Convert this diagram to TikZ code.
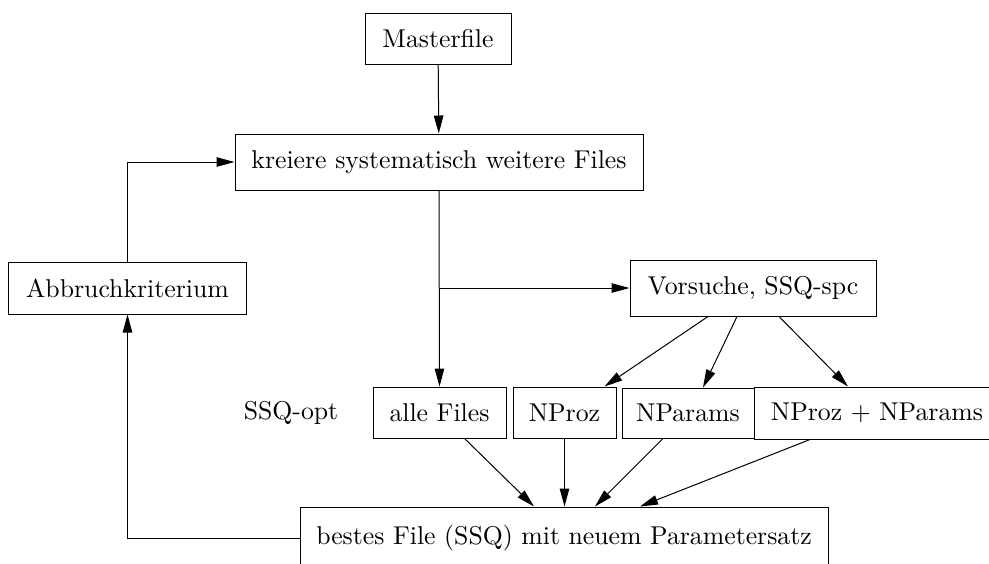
\documentclass[tikz,border=0pt]{standalone}
\usetikzlibrary{arrows.meta,calc}
\begin{document}
\begin{tikzpicture}[x=0.4pt,y=-0.4pt,
  font=\fontsize{10.3}{12}\selectfont,
  box/.style={draw,line width=0.4pt,inner sep=0pt,align=center},
  arr/.style={-{Triangle[length=7.2pt,width=3.8pt]},line width=0.4pt},
  ln/.style={line width=0.4pt}]
\useasboundingbox (0,0) rectangle (989,563);
\clip (0,0) rectangle (989,563);

% boxes
\node[box,minimum width=146*0.4pt,minimum height=51*0.4pt] (master) at (438,38.5) {Masterfile};
\node[box,minimum width=408*0.4pt,minimum height=56*0.4pt] (kreiere) at (439,162) {kreiere systematisch weitere Files};
\node[box,minimum width=237*0.4pt,minimum height=52*0.4pt] (abbruch) at (127.5,288) {Abbruchkriterium};
\node[box,minimum width=246*0.4pt,minimum height=56*0.4pt] (vorsuche) at (753,288) {Vorsuche, SSQ-spc};
\node (ssqopt) at (291,413) {SSQ-opt};
\node[box,minimum width=133*0.4pt,minimum height=51*0.4pt] (alle) at (439.5,412.5) {alle Files};
\node[box,minimum width=103*0.4pt,minimum height=51*0.4pt] (nproz) at (564.5,412.5) {NProz};
\node[box,minimum width=132*0.4pt,minimum height=50*0.4pt] (nparams) at (688,413) {NParams};
\node[box,minimum width=246*0.4pt,minimum height=52*0.4pt] (both) at (877,413) {NProz + NParams};
\node[box,minimum width=528*0.4pt,minimum height=62*0.4pt] (best) at (564,538) {bestes File (SSQ) mit neuem Parametersatz};

% connectors
\draw[arr] (master) -- (kreiere);
\draw[arr] (kreiere.south) -- (alle.north);
\coordinate (split) at (kreiere.south |- vorsuche.west);
\draw[arr] (split) -- (vorsuche.west);
\draw[arr] (abbruch.north) |- (kreiere.west);
\draw[arr] (best.west) -| (abbruch.south);

\draw[arr] ([xshift=-45*0.4pt]vorsuche.south) -- ([xshift=40*0.4pt]nproz.north);
\draw[arr] ([xshift=-16*0.4pt]vorsuche.south) -- ([xshift=15*0.4pt]nparams.north);
\draw[arr] ([xshift=26*0.4pt]vorsuche.south) -- ([xshift=-29*0.4pt]both.north);

\draw[arr] ([xshift=25*0.4pt]alle.south) -- ([xshift=-30*0.4pt]best.north);
\draw[arr] (nproz.south) -- (nproz.south |- best.north);
\draw[arr] ([xshift=-25*0.4pt]nparams.south) -- ([xshift=31*0.4pt]best.north);
\draw[arr] ([xshift=-67*0.4pt]both.south) -- ([xshift=76*0.4pt]best.north);
\end{tikzpicture}
\end{document}
